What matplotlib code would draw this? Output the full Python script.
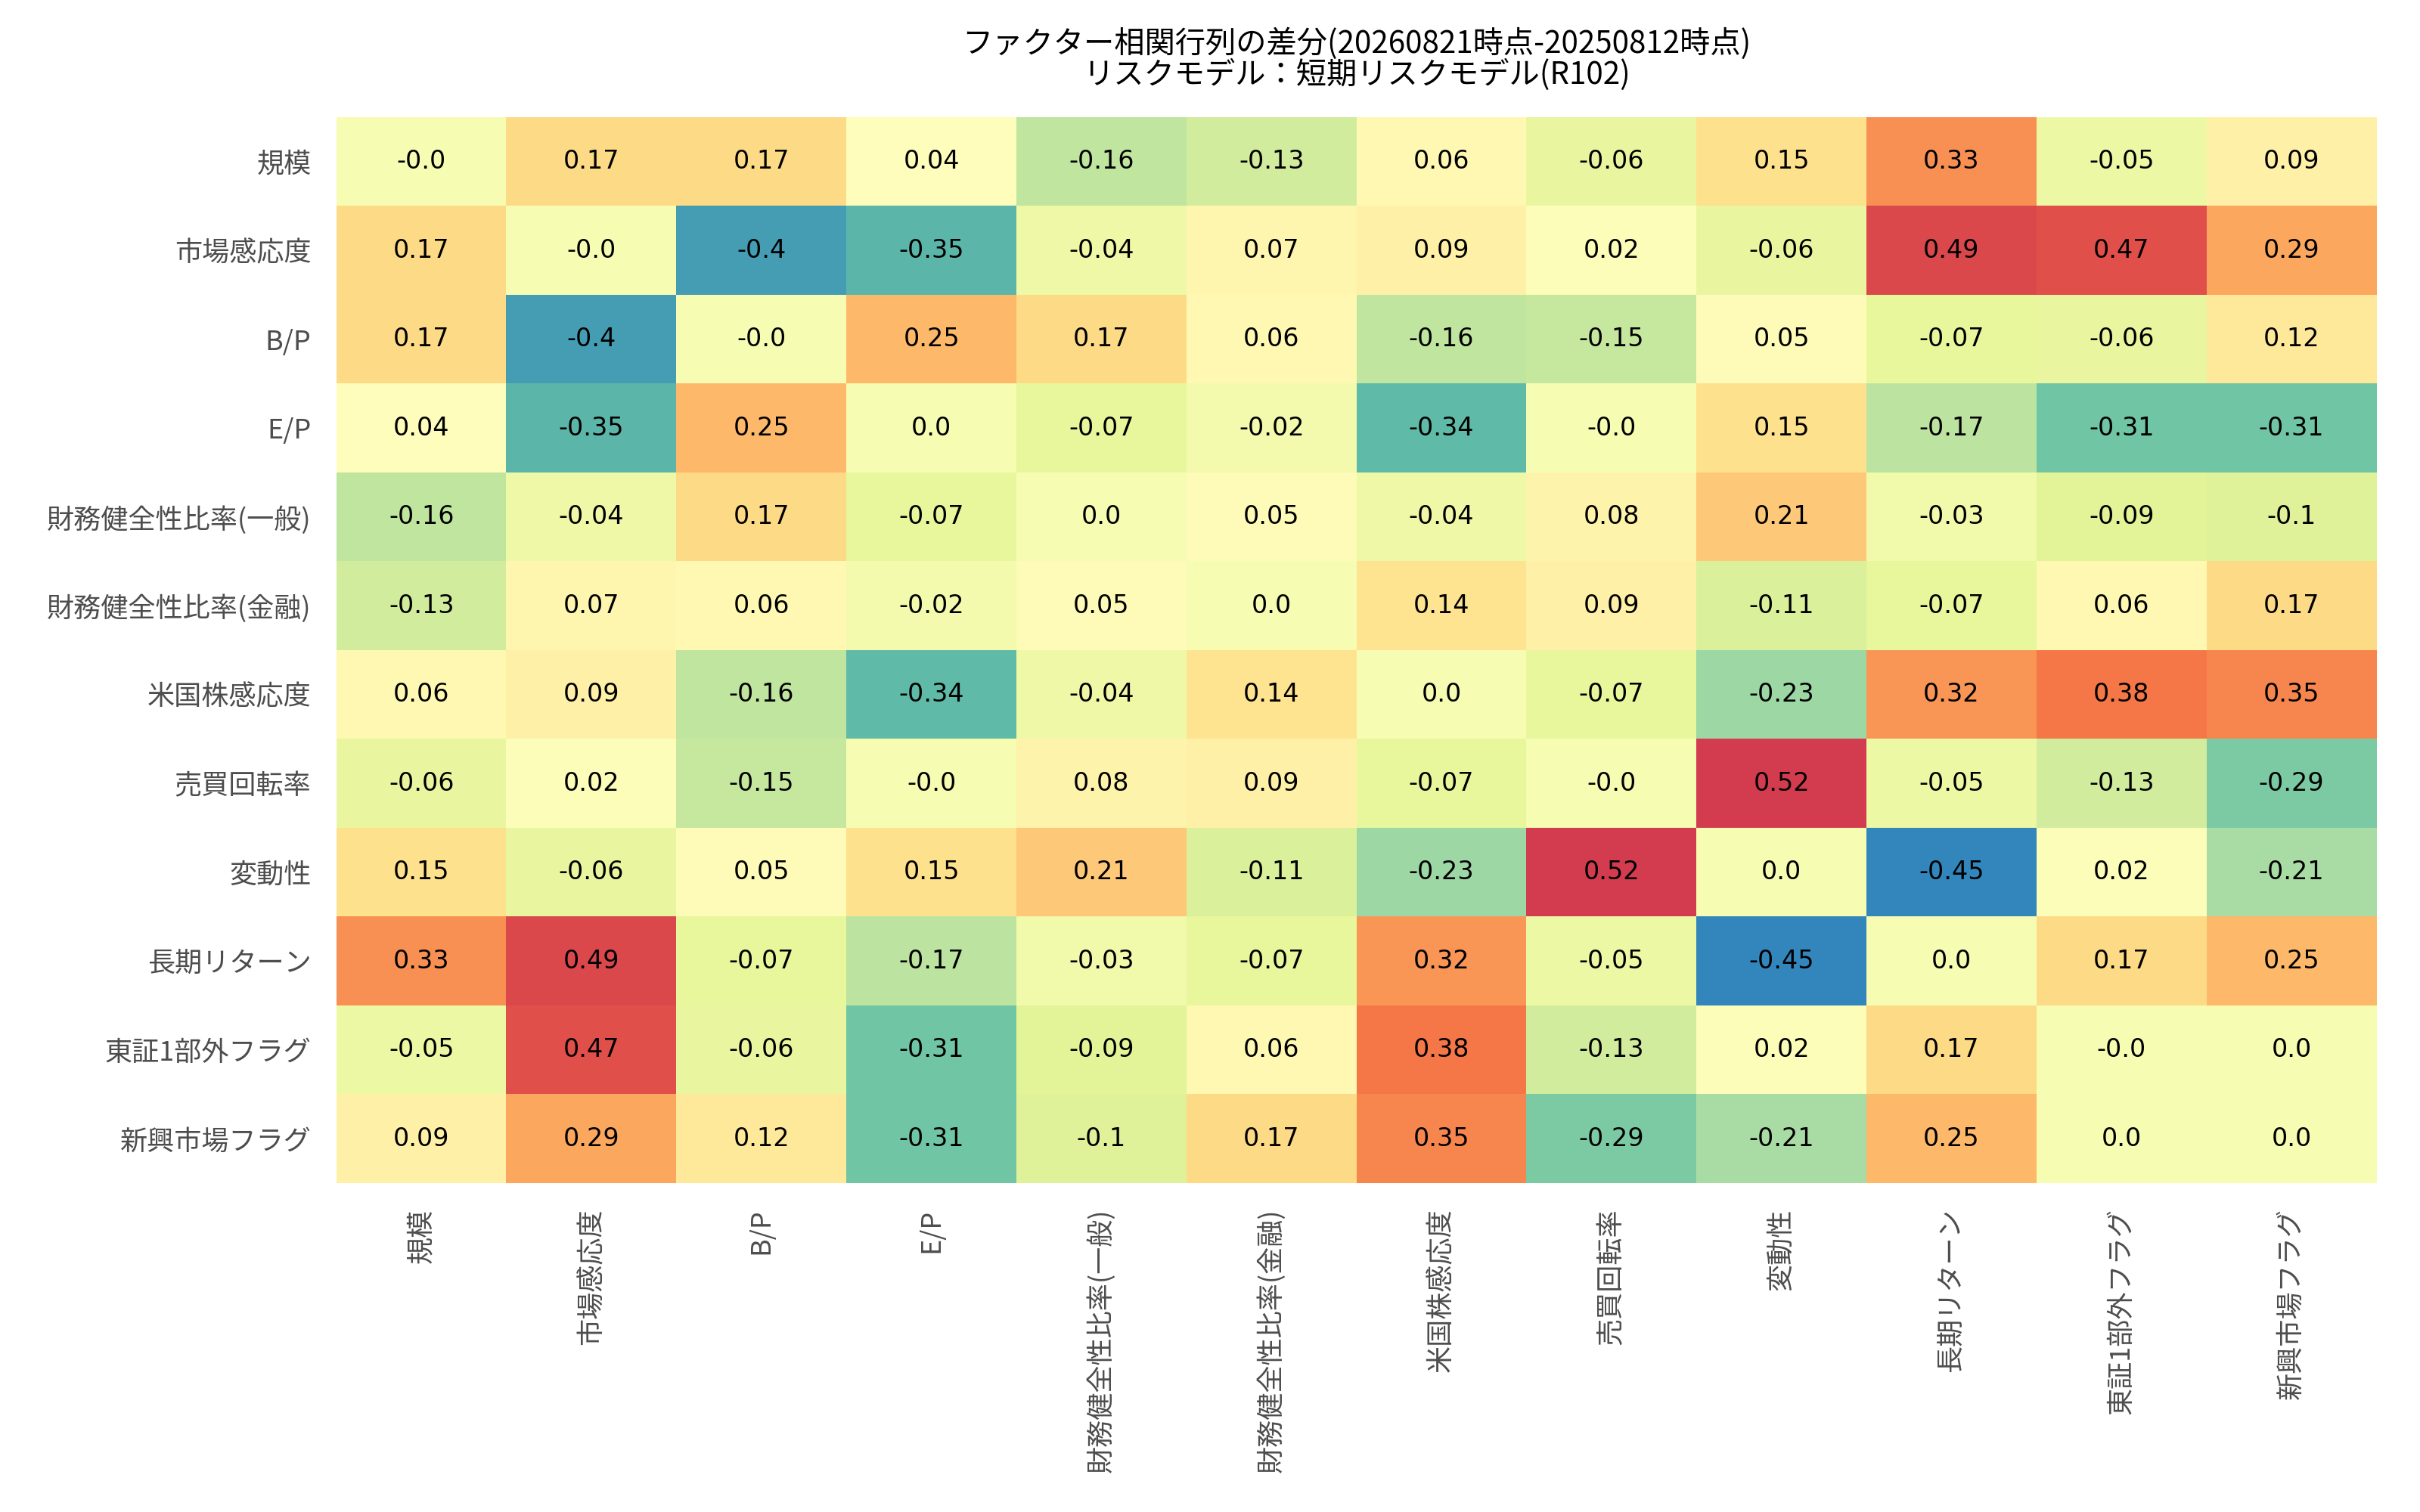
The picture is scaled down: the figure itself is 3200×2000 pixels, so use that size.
import numpy as np
import matplotlib
matplotlib.use("Agg")
import matplotlib.pyplot as plt

factors = ['規模', '市場感応度', 'B/P', 'E/P', '財務健全性比率(一般)', '財務健全性比率(金融)',
           '米国株感応度', '売買回転率', '変動性', '長期リターン', '東証1部外フラグ', '新興市場フラグ']

diff_size = [-0.0, 0.17, 0.17, 0.04, -0.16, -0.13, 0.06, -0.06, 0.15, 0.33, -0.05, 0.09]
diff_beta = [0.17, -0.0, -0.4, -0.35, -0.04, 0.07, 0.09, 0.02, -0.06, 0.49, 0.47, 0.29]
diff_bp = [0.17, -0.4, -0.0, 0.25, 0.17, 0.06, -0.16, -0.15, 0.05, -0.07, -0.06, 0.12]
diff_ep = [0.04, -0.35, 0.25, 0.0, -0.07, -0.02, -0.34, -0.0, 0.15, -0.17, -0.31, -0.31]
diff_fin_gen = [-0.16, -0.04, 0.17, -0.07, 0.0, 0.05, -0.04, 0.08, 0.21, -0.03, -0.09, -0.1]
diff_fin_fin = [-0.13, 0.07, 0.06, -0.02, 0.05, 0.0, 0.14, 0.09, -0.11, -0.07, 0.06, 0.17]
diff_us = [0.06, 0.09, -0.16, -0.34, -0.04, 0.14, 0.0, -0.07, -0.23, 0.32, 0.38, 0.35]
diff_turnover = [-0.06, 0.02, -0.15, -0.0, 0.08, 0.09, -0.07, -0.0, 0.52, -0.05, -0.13, -0.29]
diff_vol = [0.15, -0.06, 0.05, 0.15, 0.21, -0.11, -0.23, 0.52, 0.0, -0.45, 0.02, -0.21]
diff_ltr = [0.33, 0.49, -0.07, -0.17, -0.03, -0.07, 0.32, -0.05, -0.45, 0.0, 0.17, 0.25]
diff_non1st = [-0.05, 0.47, -0.06, -0.31, -0.09, 0.06, 0.38, -0.13, 0.02, 0.17, -0.0, 0.0]
diff_emerging = [0.09, 0.29, 0.12, -0.31, -0.1, 0.17, 0.35, -0.29, -0.21, 0.25, 0.0, 0.0]

rows = [diff_size, diff_beta, diff_bp, diff_ep, diff_fin_gen, diff_fin_fin,
        diff_us, diff_turnover, diff_vol, diff_ltr, diff_non1st, diff_emerging]

title = 'ファクター相関行列の差分(20260821時点-20250812時点)\nリスクモデル：短期リスクモデル(R102)'

cjk = ['Noto Sans CJK JP', 'DejaVu Sans']

def main():
    mat = np.array(rows, dtype=float)
    n = len(factors)

    fig = plt.figure(figsize=(16, 10), dpi=200)
    ax = fig.add_axes([0.139, 0.2175, 0.843, 0.705])

    ax.imshow(mat, cmap='Spectral_r', vmin=-0.57, vmax=0.64, aspect='auto',
              interpolation='nearest')

    # annotations (keep "-0.0" as shown)
    for i, r in enumerate(rows):
        for j, v in enumerate(r):
            ax.text(j, i, f"{v}", ha='center', va='center', fontsize=12,
                    color='black', family='DejaVu Sans')

    ax.set_xticks(range(n))
    ax.set_yticks(range(n))
    ax.set_xticklabels(factors, rotation=90, family=cjk, fontsize=13, color='#4d4d4d')
    ax.set_yticklabels(factors, family=cjk, fontsize=13, color='#4d4d4d')
    ax.tick_params(axis='both', length=0, pad=12)
    for s in ax.spines.values():
        s.set_visible(False)

    ax.set_title(title, family=cjk, fontsize=14.5, pad=16, linespacing=0.95)

    fig.savefig('out.png', dpi=200)
    plt.close(fig)

if __name__ == "__main__":
    main()
